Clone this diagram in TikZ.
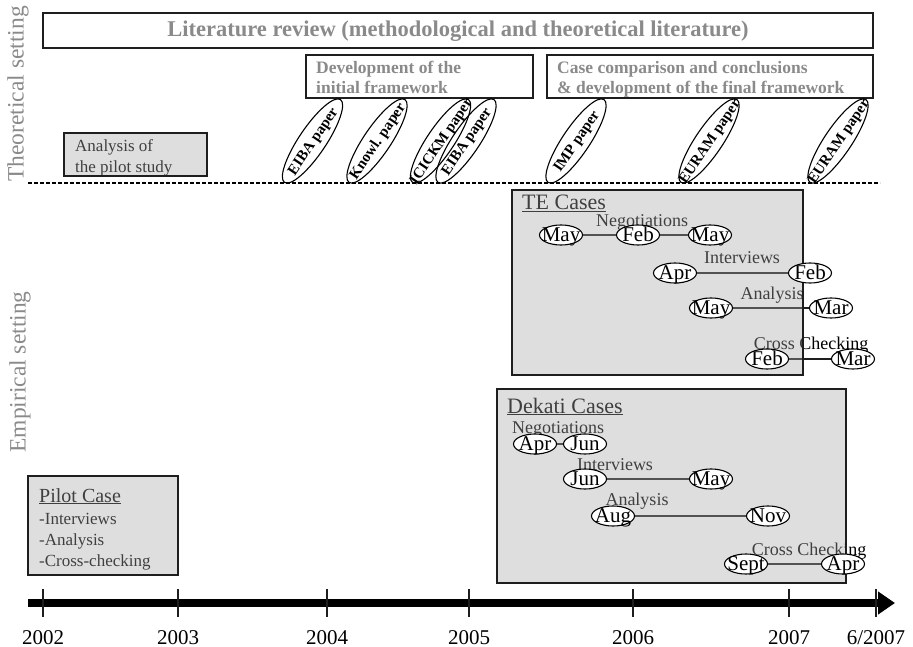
\documentclass[tikz,border=0pt]{standalone}
\usepackage{fontspec}
\setmainfont{Liberation Serif}
\usetikzlibrary{arrows.meta,shapes.geometric}

% layers: text and links sit under the translucent case boxes
\pgfdeclarelayer{under}
\pgfdeclarelayer{shade}
\pgfsetlayers{under,shade,main}

\definecolor{labelgray}{RGB}{138,138,138}
\definecolor{boxshade}{RGB}{168,168,168}
\definecolor{edge}{RGB}{30,30,30}

\newcommand{\fs}[1]{\fontsize{#1}{#1}\selectfont}
% zero-size, vertically centred text for fixed-size ellipses
\newcommand{\ctr}[1]{\makebox[0pt]{\raisebox{-0.33em}[0pt][0pt]{#1}}}

\begin{document}
\begin{tikzpicture}[x=1pt,y=-1pt,
  framebox/.style={draw=edge, line width=1.3pt, inner sep=0},
  shadebox/.style={fill=boxshade, fill opacity=0.38, draw=edge, draw opacity=1, line width=1.3pt, inner sep=0},
  paper/.style={ellipse, draw=black, line width=1.1pt, minimum width=100pt, minimum height=27pt,
                inner sep=0, rotate=56, font=\fs{15pt}\bfseries},
  month/.style={ellipse, draw=black, fill=white, line width=1.1pt, minimum width=43pt,
                minimum height=20pt, inner sep=0, font=\fs{21pt}},
  phase/.style={font=\fs{18pt}, anchor=base, inner sep=0},
  link/.style={draw=edge, line width=1.1pt},
  boldgray/.style={font=\fs{17.5pt}\bfseries, text=labelgray, anchor=base west, inner sep=0},
  plain/.style={font=\fs{17pt}, anchor=base west, inner sep=0},
  heading/.style={font=\fs{22pt}, anchor=base west, inner sep=0},
  side/.style={font=\fs{23.5pt}, text=labelgray, rotate=90, inner sep=0},
  tickmark/.style={draw=edge, line width=1.2pt},
  year/.style={font=\fs{21pt}, anchor=base, inner sep=0}]

\useasboundingbox (0,0) rectangle (913,647);

% ---------- side labels ----------
\node[side] (theo) at (18,94) {Theoretical setting};
\node[side] (emp) at (20,372) {Empirical setting};

% ---------- theoretical setting ----------
\node[framebox, minimum width=830pt, minimum height=35pt] (lit) at (458,30.5) {};
\node[font=\fs{22.5pt}\bfseries, text=labelgray, anchor=base, inner sep=0] (littext) at (458,37)
  {Literature review (methodological and theoretical literature)};

\node[framebox, minimum width=227pt, minimum height=43pt] (dev) at (419.5,76.5) {};
\node[boldgray] (dev1) at (316,74) {Development of the};
\node[boldgray] (dev2) at (316,94) {initial framework};

\node[framebox, minimum width=326pt, minimum height=43pt] (comp) at (710,76.5) {};
\node[boldgray] (comp1) at (557,74) {Case comparison and conclusions};
\node[boldgray] (comp2) at (557,94) {\& development of the final framework};

\begin{pgfonlayer}{under}
  \node[plain] (pa1) at (75,152) {Analysis of};
  \node[plain] (pa2) at (75,173) {the pilot study};
\end{pgfonlayer}
\begin{pgfonlayer}{shade}
  \node[shadebox, minimum width=143pt, minimum height=43pt] (pilotan) at (135.5,154.5) {};
\end{pgfonlayer}

% papers
\node[paper] (p1) at (312.5,141) {\ctr{EIBA paper}};
\node[paper] (p2) at (377,141) {\ctr{Knowl. paper}};
\node[paper] (p3) at (440.5,141) {\ctr{ICICKM paper}};
\node[paper] (p4) at (466,141) {\ctr{EIBA paper}};
\node[paper] (p5) at (576,141) {\ctr{IMP paper}};
\node[paper] (p6) at (709,141) {\ctr{EURAM paper}};
\node[paper] (p7) at (838,141) {\ctr{EURAM paper}};

% divider between the two settings
\coordinate (dashL) at (28,183);
\coordinate (dashR) at (880,183);
\draw[line width=2pt, dash pattern=on 4pt off 2pt] (dashL) -- (dashR);

% ---------- TE cases ----------
\node[month] (teNegA) at (561,235) {\ctr{May}};
\node[month] (teNegB) at (638,235) {\ctr{Feb}};
\node[month] (teNegC) at (710,235) {\ctr{May}};
\node[month] (teIntA) at (675,273) {\ctr{Apr}};
\node[month] (teIntB) at (810,273) {\ctr{Feb}};
\node[month] (teAnaA) at (711,308) {\ctr{May}};
\node[month] (teAnaB) at (831,308) {\ctr{Mar}};
\node[month] (teCrsA) at (767,359) {\ctr{Feb}};
\node[month] (teCrsB) at (853,359) {\ctr{Mar}};

\begin{pgfonlayer}{under}
  \node[heading] (tehead) at (522,210) {\underline{TE Cases}};
  \node[phase] (teNeg) at (642,226) {Negotiations};
  \node[phase] (teInt) at (742,263) {Interviews};
  \node[phase] (teAna) at (772,299) {Analysis};
  \node[phase] (teCrs) at (811,349) {Cross Checking};
  \draw[link] (teNegA) -- (teNegB);
  \draw[link] (teNegB) -- (teNegC);
  \draw[link] (teIntA) -- (teIntB);
  \draw[link] (teAnaA) -- (teAnaB);
  \draw[link] (teCrsA) -- (teCrsB);
\end{pgfonlayer}
\begin{pgfonlayer}{shade}
  \node[shadebox, minimum width=291pt, minimum height=185pt] (te) at (657.5,282.5) {};
\end{pgfonlayer}

% ---------- Dekati cases ----------
\node[month] (dkNegA) at (535,444) {\ctr{Apr}};
\node[month] (dkNegB) at (585,444) {\ctr{Jun}};
\node[month] (dkIntA) at (585,479) {\ctr{Jun}};
\node[month] (dkIntB) at (711,479) {\ctr{May}};
\node[month] (dkAnaA) at (613,516) {\ctr{Aug}};
\node[month] (dkAnaB) at (768,516) {\ctr{Nov}};
\node[month] (dkCrsA) at (746,564) {\ctr{Sept}};
\node[month] (dkCrsB) at (843,564) {\ctr{Apr}};

\begin{pgfonlayer}{under}
  \node[heading] (dkhead) at (507,413) {\underline{Dekati Cases}};
  \node[phase] (dkNeg) at (558,433) {Negotiations};
  \node[phase] (dkInt) at (615,470) {Interviews};
  \node[phase] (dkAna) at (637,505) {Analysis};
  \node[phase] (dkCrs) at (809,555) {Cross Checking};
  \draw[link] (dkNegA) -- (dkNegB);
  \draw[link] (dkIntA) -- (dkIntB);
  \draw[link] (dkAnaA) -- (dkAnaB);
  \draw[link] (dkCrsA) -- (dkCrsB);
\end{pgfonlayer}
\begin{pgfonlayer}{shade}
  \node[shadebox, minimum width=349pt, minimum height=194pt] (dk) at (671.5,486) {};
\end{pgfonlayer}

% ---------- pilot case ----------
\begin{pgfonlayer}{under}
  \node[font=\fs{20pt}, anchor=base west, inner sep=0] (pchead) at (39,502) {\underline{Pilot Case}};
  \node[plain] (pc1) at (39,524) {-Interviews};
  \node[plain] (pc2) at (39,545) {-Analysis};
  \node[plain] (pc3) at (39,566) {-Cross-checking};
\end{pgfonlayer}
\begin{pgfonlayer}{shade}
  \node[shadebox, minimum width=150pt, minimum height=99pt] (pilot) at (103,525.5) {};
\end{pgfonlayer}

% ---------- time axis ----------
\coordinate (axL) at (28,603);
\coordinate (axR) at (895,603);
\draw[line width=8pt, -{Triangle[length=17pt,width=22pt]}] (axL) -- (axR);

\foreach \x/\lab/\nm in {43/2002/y2, 178/2003/y3, 327/2004/y4, 469/2005/y5,
                         633/2006/y6, 789/2007/y7, 876/6\slash 2007/y8} {
  \draw[tickmark] (\x,589) -- (\x,617);
  \node[year] (\nm) at (\x,644) {\lab};
}

\end{tikzpicture}
\end{document}
